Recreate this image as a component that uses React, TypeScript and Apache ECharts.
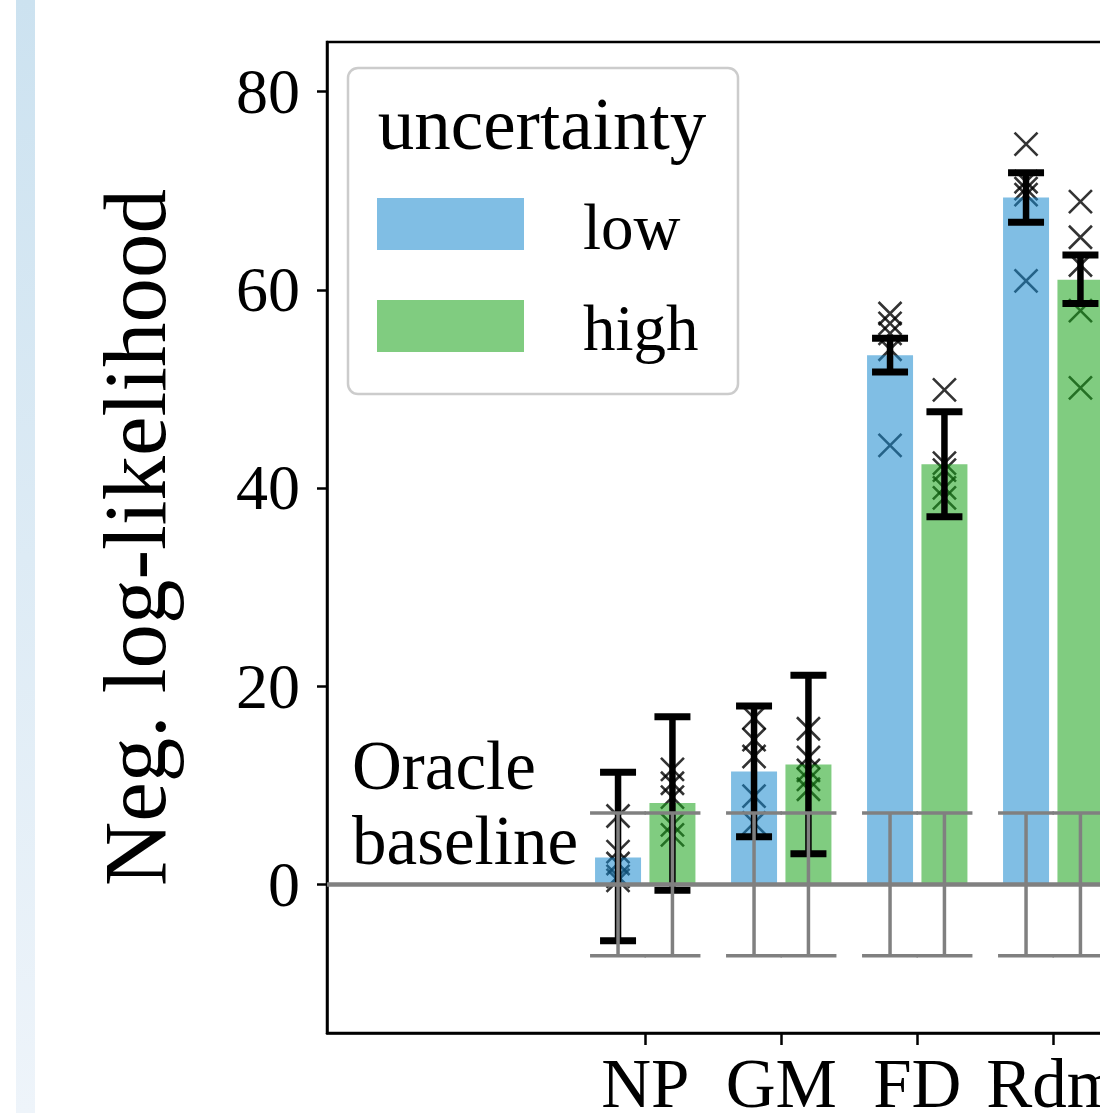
import React, { useEffect, useRef } from 'react';
import * as echarts from 'echarts';

// ---------- data ----------
const categories = ['NP', 'GM', 'FD', 'Rdm'];
const seriesNames = ['low', 'high'];
const legendTitle = 'uncertainty';
const yLabel = 'Neg. log-likelihood';
const oracleText = ['Oracle', 'baseline'];

const lowMean = [2.7, 11.4, 53.4, 69.3];
const highMean = [8.2, 12.1, 42.4, 61.0];

const lowErrBottom = [-5.7, 4.8, 51.7, 66.8];
const lowErrTop = [11.3, 18.0, 55.1, 71.8];
const highErrBottom = [-0.6, 3.1, 37.1, 58.6];
const highErrTop = [16.9, 21.1, 47.7, 63.5];

const lowRuns = [
  [6.9, 3.3, 2.1, 0.8, 0.4],
  [16.8, 14.6, 12.9, 8.9, 6.2],
  [57.6, 56.6, 55.6, 54.0, 44.3],
  [74.7, 70.9, 70.2, 69.6, 60.9],
];
const highRuns = [
  [11.6, 10.2, 8.8, 6.0, 5.0],
  [15.7, 12.8, 11.5, 10.6, 9.6],
  [49.9, 42.5, 41.8, 40.0, 39.0],
  [68.9, 65.3, 62.5, 57.9, 50.1],
];

const oracleBand = [-7.2, 7.2];
const yTicks = [0, 20, 40, 60, 80];
const yMin = -15;
const yMax = 85;

// ---------- layout / style ----------
const FONT = "'Liberation Serif', 'Times New Roman', serif";
const BLUE = 'rgba(24,137,206,0.55)';
const GREEN = 'rgba(24,162,24,0.55)';
const GRAY = '#808080';
const OFFSET = 0.2; // half-distance between paired bars, in category units
const X_MIN = -2.34;
const X_MAX = 4.5;
const PX_PER_CAT = 136;
const GRID_LEFT = 327;
const GRID_TOP = 42;
const GRID_H = 991;

function errRender(color: string, lineW: number, capW: number, capThick: number) {
  return (params: any, api: any) => {
    const x = api.value(0);
    const p0 = api.coord([x, api.value(1)]);
    const p1 = api.coord([x, api.value(2)]);
    const h = capW / 2;
    return {
      type: 'group',
      children: [
        {
          type: 'line',
          shape: { x1: p0[0], y1: p0[1], x2: p1[0], y2: p1[1] },
          style: { stroke: color, lineWidth: lineW, fill: 'none' },
        },
        {
          type: 'line',
          shape: { x1: p0[0] - h, y1: p0[1], x2: p0[0] + h, y2: p0[1] },
          style: { stroke: color, lineWidth: capThick, fill: 'none' },
        },
        {
          type: 'line',
          shape: { x1: p1[0] - h, y1: p1[1], x2: p1[0] + h, y2: p1[1] },
          style: { stroke: color, lineWidth: capThick, fill: 'none' },
        },
      ],
    };
  };
}

export default function App() {
  const ref = useRef<HTMLDivElement>(null);

  useEffect(() => {
    if (!ref.current) return;
    const chart = echarts.init(ref.current, null, { renderer: 'svg' });

    const lowBars = categories.map((_, i) => [i - OFFSET, lowMean[i]]);
    const highBars = categories.map((_, i) => [i + OFFSET, highMean[i]]);
    const runsLow: number[][] = [];
    const runsHigh: number[][] = [];
    categories.forEach((_, i) => {
      lowRuns[i].forEach((v) => runsLow.push([i - OFFSET, v]));
      highRuns[i].forEach((v) => runsHigh.push([i + OFFSET, v]));
    });
    const blackErr: number[][] = [];
    const grayErr: number[][] = [];
    categories.forEach((_, i) => {
      blackErr.push([i - OFFSET, lowErrBottom[i], lowErrTop[i]]);
      blackErr.push([i + OFFSET, highErrBottom[i], highErrTop[i]]);
      grayErr.push([i - OFFSET, oracleBand[0], oracleBand[1]]);
      grayErr.push([i + OFFSET, oracleBand[0], oracleBand[1]]);
    });

    const crossSymbol = 'path://M0,0L10,10M10,0L0,10';
    const cx = 352;

    chart.setOption({
      animation: false,
      backgroundColor: '#ffffff',
      grid: {
        left: GRID_LEFT,
        top: GRID_TOP,
        width: (X_MAX - X_MIN) * PX_PER_CAT,
        height: GRID_H,
        outerBoundsMode: 'none',
        containLabel: false,
        show: true,
        borderColor: '#000',
        borderWidth: 2.5,
        backgroundColor: 'transparent',
      },
      xAxis: {
        type: 'value',
        min: X_MIN,
        max: X_MAX,
        splitLine: { show: false },
        axisLine: { show: true, onZero: false, lineStyle: { color: '#000', width: 2.5 } },
        axisTick: {
          show: true,
          customValues: categories.map((_, i) => i),
          length: 12,
          lineStyle: { color: '#000', width: 2.5 },
        },
        axisLabel: {
          show: true,
          customValues: categories.map((_, i) => i),
          formatter: (v: number) => categories[Math.round(v)] ?? '',
          fontFamily: FONT,
          fontSize: 69,
          color: '#000',
          margin: 16,
        },
      },
      yAxis: {
        type: 'value',
        min: yMin,
        max: yMax,
        splitLine: { show: false },
        axisLine: { show: true, onZero: false, lineStyle: { color: '#000', width: 2.5 } },
        axisTick: {
          show: true,
          customValues: yTicks,
          length: 10,
          lineStyle: { color: '#000', width: 2.5 },
        },
        axisLabel: {
          show: true,
          customValues: yTicks,
          fontFamily: FONT,
          fontSize: 64,
          color: '#000',
          margin: 27,
        },
        name: yLabel,
        nameLocation: 'middle',
        nameGap: 192,
        nameTextStyle: {
          fontFamily: FONT,
          fontSize: 89,
          color: '#000',
          verticalAlign: 'middle',
        },
      },
      series: [
        {
          name: seriesNames[0] + ' runs',
          type: 'scatter',
          z: 1,
          data: runsLow,
          symbol: crossSymbol,
          symbolSize: 23,
          itemStyle: { color: 'rgba(0,0,0,0)', borderColor: '#000', borderWidth: 2.6 },
          silent: true,
        },
        {
          name: seriesNames[1] + ' runs',
          type: 'scatter',
          z: 1,
          data: runsHigh,
          symbol: crossSymbol,
          symbolSize: 23,
          itemStyle: { color: 'rgba(0,0,0,0)', borderColor: '#000', borderWidth: 2.6 },
          silent: true,
        },
        {
          name: seriesNames[0],
          type: 'bar',
          z: 2,
          data: lowBars,
          barWidth: 46,
          barGap: '-100%',
          itemStyle: { color: BLUE },
        },
        {
          name: seriesNames[1],
          type: 'bar',
          z: 2,
          data: highBars,
          barWidth: 46,
          barGap: '-100%',
          itemStyle: { color: GREEN },
        },
        {
          name: 'error',
          type: 'custom',
          z: 3,
          data: blackErr,
          dimensions: ['x', 'lo', 'hi'],
          encode: { x: 0, y: [1, 2] },
          renderItem: errRender('#000', 6.5, 36, 7),
          silent: true,
        },
        {
          name: 'oracle',
          type: 'custom',
          z: 4,
          data: grayErr,
          dimensions: ['x', 'lo', 'hi'],
          encode: { x: 0, y: [1, 2] },
          renderItem: errRender(GRAY, 3.5, 56, 3.5),
          silent: true,
          markLine: {
            silent: true,
            symbol: ['none', 'none'],
            label: { show: false },
            lineStyle: { color: GRAY, width: 4.5, type: 'solid' },
            data: [{ yAxis: 0 }],
          },
        },
      ],
      graphic: [
        {
          type: 'rect',
          silent: true,
          shape: { x: 16, y: 0, width: 19, height: 1113 },
          style: {
            fill: new echarts.graphic.LinearGradient(0, 0, 0, 1, [
              { offset: 0, color: 'rgb(204,226,240)' },
              { offset: 1, color: 'rgb(238,244,250)' },
            ]),
          },
        },
        {
          type: 'text',
          silent: true,
          z: 10,
          style: {
            text: oracleText[0],
            x: cx,
            y: 766,
            font: `69px ${FONT}`,
            fill: '#000',
            align: 'left',
            verticalAlign: 'middle',
          },
        },
        {
          type: 'text',
          silent: true,
          z: 10,
          style: {
            text: oracleText[1],
            x: cx,
            y: 841,
            font: `69px ${FONT}`,
            fill: '#000',
            align: 'left',
            verticalAlign: 'middle',
          },
        },
        {
          type: 'group',
          z: 20,
          children: [
            {
              type: 'rect',
              silent: true,
              shape: { x: 348, y: 68, width: 390, height: 326, r: 10 },
              style: { fill: 'rgba(255,255,255,0.8)', stroke: '#cccccc', lineWidth: 2.5 },
            },
            {
              type: 'text',
              silent: true,
              style: {
                text: legendTitle,
                x: 542,
                y: 124,
                font: `73px ${FONT}`,
                fill: '#000',
                align: 'center',
                verticalAlign: 'middle',
              },
            },
            {
              type: 'rect',
              silent: true,
              shape: { x: 377, y: 198, width: 147, height: 52 },
              style: { fill: BLUE },
            },
            {
              type: 'rect',
              silent: true,
              shape: { x: 377, y: 300, width: 147, height: 52 },
              style: { fill: GREEN },
            },
            {
              type: 'text',
              silent: true,
              style: {
                text: seriesNames[0],
                x: 583,
                y: 227,
                font: `65px ${FONT}`,
                fill: '#000',
                align: 'left',
                verticalAlign: 'middle',
              },
            },
            {
              type: 'text',
              silent: true,
              style: {
                text: seriesNames[1],
                x: 583,
                y: 328,
                font: `65px ${FONT}`,
                fill: '#000',
                align: 'left',
                verticalAlign: 'middle',
              },
            },
          ],
        },
      ],
    });

    return () => chart.dispose();
  }, []);

  return (
    <div
      ref={ref}
      style={{ position: 'absolute', left: 0, top: 0, width: 1100, height: 1113, background: '#fff' }}
    />
  );
}
